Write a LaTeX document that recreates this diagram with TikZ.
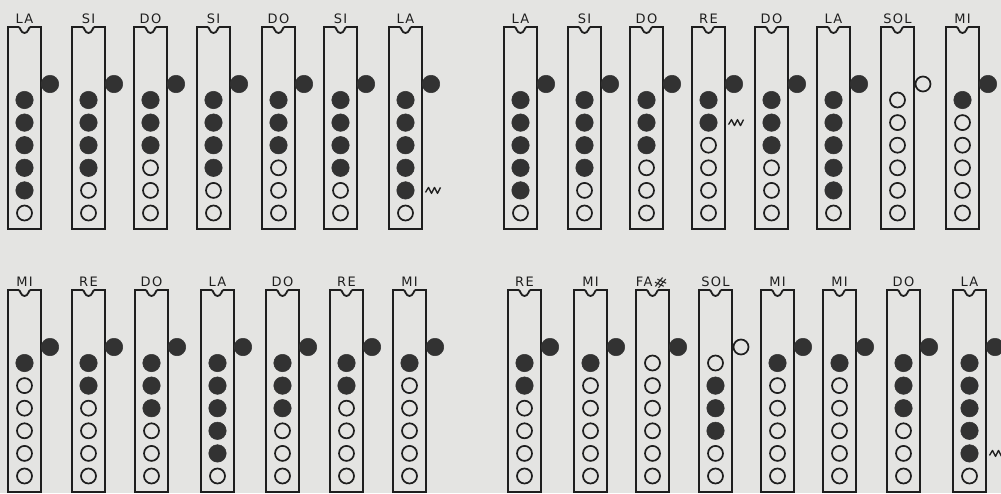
\documentclass[tikz,border=0pt]{standalone}
\usepackage{fontspec}
\usepackage{graphicx}
\newfontfamily\labfont[LetterSpace=10]{DejaVu Sans}
\definecolor{bg}{RGB}{228,228,226}
\definecolor{ink}{RGB}{30,30,30}
\definecolor{dot}{RGB}{50,50,50}
\tikzset{
  rectink/.style={draw=ink, line width=1.8},
  h1/.style={circle, fill=dot, draw=dot, line width=0.5, minimum size=17.5, inner sep=0},
  h0/.style={circle, draw=ink, fill=bg, line width=1.7, minimum size=15, inner sep=0},
  lab/.style={font=\labfont\fontsize{13}{14}\selectfont, text=ink, inner sep=0, anchor=base},
  sq/.style={draw=ink, line width=1.3, line join=round}
}
\newcommand\fchart[6]{%
  \pgfmathsetmacro\cx{#2+16.5}%
  \draw[rectink] (#2,#3+202) -- (#2,#3) -- (\cx-6,#3)
     .. controls (\cx-4,#3) and (\cx-4,#3+6) .. (\cx,#3+6)
     .. controls (\cx+4,#3+6) and (\cx+4,#3) .. (\cx+6,#3)
     -- (#2+33,#3) -- (#2+33,#3+202) -- cycle;
  \node[lab] (#1-l) at (\cx,#3-4) {#4};
  \node[h#5] (#1-t) at (#2+42,#3+57) {};
  \foreach \v [count=\i] in {#6} {
    \node[h\v] (#1-h\i) at (\cx,#3+73+22.6*\i-22.6) {};
  }%
}
\newcommand\squig[1]{%
  \draw[sq] ([xshift=20pt,yshift=-2pt]#1.center) -- ++(3,-5) -- ++(3,6) -- ++(3,-6) -- ++(3,6) -- ++(3,-6);
}
\begin{document}
\begin{tikzpicture}[x=1pt,y=-1pt]
\useasboundingbox (0,0) rectangle (1001,493);
\clip (0,0) rectangle (1001,493);
\fill[bg] (0,0) rectangle (1001,493);
% top left
\fchart{a1}{8}{27}{LA}{1}{1,1,1,1,1,0}
\fchart{a2}{72}{27}{SI}{1}{1,1,1,1,0,0}
\fchart{a3}{134}{27}{DO}{1}{1,1,1,0,0,0}
\fchart{a4}{197}{27}{SI}{1}{1,1,1,1,0,0}
\fchart{a5}{262}{27}{DO}{1}{1,1,1,0,0,0}
\fchart{a6}{324}{27}{SI}{1}{1,1,1,1,0,0}
\fchart{a7}{389}{27}{LA}{1}{1,1,1,1,1,0}
\squig{a7-h5}
% top right
\fchart{b1}{504}{27}{LA}{1}{1,1,1,1,1,0}
\fchart{b2}{568}{27}{SI}{1}{1,1,1,1,0,0}
\fchart{b3}{630}{27}{DO}{1}{1,1,1,0,0,0}
\fchart{b4}{692}{27}{RE}{1}{1,1,0,0,0,0}
\squig{b4-h2}
\fchart{b5}{755}{27}{DO}{1}{1,1,1,0,0,0}
\fchart{b6}{817}{27}{LA}{1}{1,1,1,1,1,0}
\fchart{b7}{881}{27}{SOL}{0}{0,0,0,0,0,0}
\fchart{b8}{946}{27}{MI}{1}{1,0,0,0,0,0}
% bottom left
\fchart{c1}{8}{290}{MI}{1}{1,0,0,0,0,0}
\fchart{c2}{72}{290}{RE}{1}{1,1,0,0,0,0}
\fchart{c3}{135}{290}{DO}{1}{1,1,1,0,0,0}
\fchart{c4}{201}{290}{LA}{1}{1,1,1,1,1,0}
\fchart{c5}{266}{290}{DO}{1}{1,1,1,0,0,0}
\fchart{c6}{330}{290}{RE}{1}{1,1,0,0,0,0}
\fchart{c7}{393}{290}{MI}{1}{1,0,0,0,0,0}
% bottom right
\fchart{d1}{508}{290}{RE}{1}{1,1,0,0,0,0}
\fchart{d2}{574}{290}{MI}{1}{1,0,0,0,0,0}
\fchart{d3}{636}{290}{FA\raisebox{1pt}{\rotatebox{-25}{\scalebox{1.2}{\#}}}}{1}{0,0,0,0,0,0}
\fchart{d4}{699}{290}{SOL}{0}{0,1,1,1,0,0}
\fchart{d5}{761}{290}{MI}{1}{1,0,0,0,0,0}
\fchart{d6}{823}{290}{MI}{1}{1,0,0,0,0,0}
\fchart{d7}{887}{290}{DO}{1}{1,1,1,0,0,0}
\fchart{d8}{953}{290}{LA}{1}{1,1,1,1,1,0}
\squig{d8-h5}
\end{tikzpicture}
\end{document}
